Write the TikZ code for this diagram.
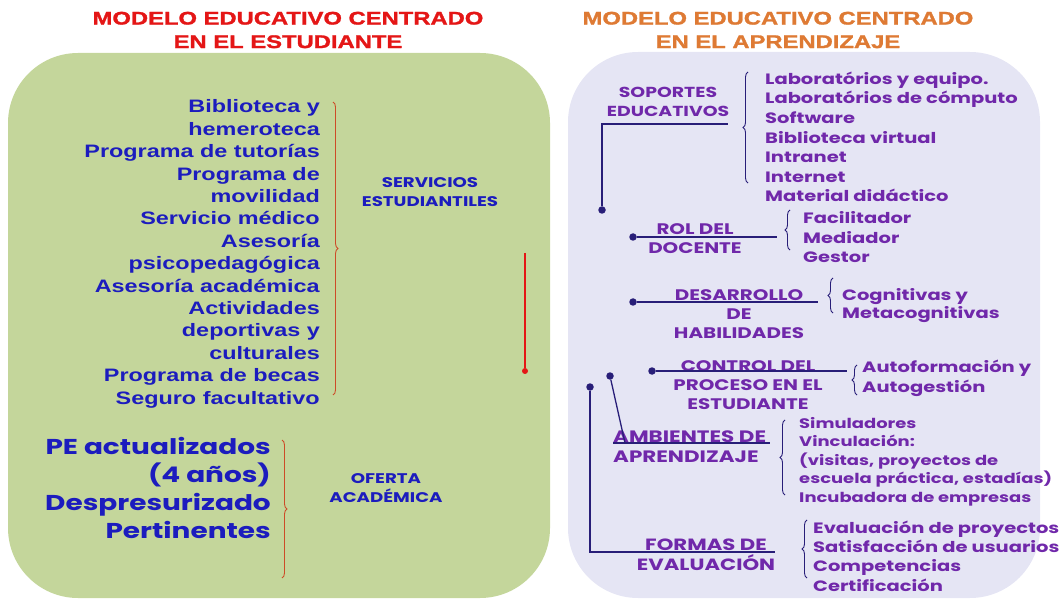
\documentclass[tikz,border=0pt]{standalone}
\usepackage{fontspec}
\setmainfont{Poppins}[FakeStretch=1.3]
\newfontfamily\arialf{Liberation Sans}[FakeStretch=1.3]
\newfontface\titf{Liberation Sans Bold}[FakeStretch=1.3, FakeBold=1.5]
\usetikzlibrary{decorations.pathreplacing}
\definecolor{verde}{RGB}{196,214,155}
\definecolor{lila}{RGB}{229,229,244}
\definecolor{azul}{RGB}{28,28,190}
\definecolor{morado}{RGB}{112,40,170}
\definecolor{marino}{RGB}{40,30,120}
\definecolor{rojo}{RGB}{228,22,22}
\definecolor{naranja}{RGB}{222,122,52}
\definecolor{ladrillo}{RGB}{205,75,40}

\begin{document}
\begin{tikzpicture}[x=1pt,y=-1pt]
	\tikzset{ttl/.style={font=\titf\fontsize{18.3}{23.5}\selectfont, align=center, inner sep=0pt},
		lst/.style={font=\arialf\bfseries\fontsize{18}{22.4}\selectfont, text=azul, align=right, inner sep=0pt},
		big/.style={font=\bfseries\fontsize{21.5}{27.7}\selectfont, text=azul, align=right, inner sep=0pt},
		tag/.style={font=\bfseries\fontsize{14}{19}\selectfont, text=azul, align=center, inner sep=0pt},
		lbl/.style={font=\bfseries\fontsize{15.3}{19}\selectfont, text=morado, align=center, inner sep=0pt},
		itm/.style={font=\bfseries\fontsize{15}{19.6}\selectfont, text=morado, align=left, inner sep=0pt},
		brc/.style={decorate, decoration={brace, amplitude=5pt}, line width=0.9pt},
		dot/.style={circle, fill=marino, inner sep=0pt, minimum size=7.5pt},
		cnx/.style={marino, line width=1.3pt}};

	\useasboundingbox (0,0) rectangle (1059,601);
	\fill[verde, rounded corners=70pt] (8,53) rectangle (550,598);
	\fill[lila, rounded corners=70pt] (568,52) rectangle (1040,598);

	% titulos
	\node[ttl, text=rojo] (t1) at (288,30) {MODELO EDUCATIVO CENTRADO\\EN EL ESTUDIANTE};
	\node[ttl, text=naranja] (t2) at (778,30) {MODELO EDUCATIVO CENTRADO\\EN EL APRENDIZAJE};

	% estudiante
	\node[lst, anchor=base east] (serv) at (320,404) {Biblioteca y\\hemeroteca\\Programa de tutorías\\Programa de\\movilidad\\Servicio médico\\Asesoría\\psicopedagógica\\Asesoría académica\\Actividades\\deportivas y\\culturales\\Programa de becas\\Seguro facultativo};
	\coordinate (b1) at (333,102);
	\coordinate (b2) at (333,395);
	\draw[brc, ladrillo] (b1) -- (b2);
	\node[tag] (se) at (430,192) {SERVICIOS\\ESTUDIANTILES};

	\coordinate (r1) at (525,253);
	\node[dot, fill=rojo, minimum size=6pt] (r2) at (525,371) {};
	\draw[rojo, line width=1.3pt] (r1) -- (r2);

	\node[big, anchor=base east] (pe) at (271,538) {PE actualizados\\(4 años)\\Despresurizado\\Pertinentes};
	\coordinate (b3) at (282,440);
	\coordinate (b4) at (282,578);
	\draw[brc, ladrillo] (b3) -- (b4);
	\node[tag] (oa) at (386,488) {OFERTA\\ACADÉMICA};

	% aprendizaje
	\node[lbl, font=\bfseries\fontsize{14.5}{19}\selectfont] (sop) at (668,102) {SOPORTES\\EDUCATIVOS};
	\node[dot] (s0) at (602,210) {};
	\coordinate (s1) at (602,124);
	\coordinate (s2) at (728,124);
	\draw[cnx] (s0) -- (s1) -- (s2);
	\coordinate (b5) at (748,183);
	\coordinate (b6) at (748,72);
	\draw[brc, marino] (b5) -- (b6);
	\node[itm, anchor=base west] (sopi) at (765,202) {Laboratórios y equipo.\\Laboratórios de cómputo\\Software\\Biblioteca virtual\\Intranet\\Internet\\Material didáctico};

	\node[lbl] (rol) at (695,239) {ROL DEL\\DOCENTE};
	\node[dot] (d0) at (633,237) {};
	\coordinate (d1) at (777,237);
	\draw[cnx] (d0) -- (d1);
	\coordinate (b7) at (790,250);
	\coordinate (b8) at (790,210);
	\draw[brc, marino] (b7) -- (b8);
	\node[itm, anchor=base west] (roli) at (803,263) {Facilitador\\Mediador\\Gestor};

	\node[lbl] (des) at (739,314) {DESARROLLO\\DE\\HABILIDADES};
	\node[dot] (h0) at (633,302) {};
	\coordinate (h1) at (818,302);
	\draw[cnx] (h0) -- (h1);
	\coordinate (b9) at (833,313);
	\coordinate (b10) at (833,278);
	\draw[brc, marino] (b9) -- (b10);
	\node[itm, anchor=base west, font=\bfseries\fontsize{15}{17.5}\selectfont] (desi) at (842,318) {Cognitivas y\\Metacognitivas};

	\node[lbl] (con) at (748,385) {CONTROL DEL\\PROCESO EN EL\\ESTUDIANTE};
	\node[dot] (c0) at (652,371) {};
	\coordinate (c1) at (847,371);
	\draw[cnx] (c0) -- (c1);
	\coordinate (b11) at (857,395);
	\coordinate (b12) at (857,365);
	\draw[brc, marino] (b11) -- (b12);
	\node[itm, anchor=base west] (coni) at (862,392) {Autoformación y\\Autogestión};

	\node[lbl, font=\bfseries\fontsize{16.5}{19.5}\selectfont, align=left, anchor=base west] (amb) at (613,462) {AMBIENTES DE\\APRENDIZAJE};
	\node[dot] (a0) at (610,376) {};
	\coordinate (a1) at (625,443);
	\coordinate (a2) at (613,443);
	\coordinate (a3) at (770,443);
	\draw[cnx] (a0) -- (a1);
	\draw[cnx] (a2) -- (a3);
	\coordinate (b13) at (785,495);
	\coordinate (b14) at (785,420);
	\draw[brc, marino] (b13) -- (b14);
	\node[itm, anchor=base west, font=\bfseries\fontsize{13.8}{18.5}\selectfont] (ambi) at (799,502) {Simuladores\\Vinculación:\\(visitas, proyectos de\\escuela práctica, estadías)\\Incubadora de empresas};

	\node[lbl, font=\bfseries\fontsize{16.3}{20}\selectfont] (for) at (706,555) {FORMAS DE\\EVALUACIÓN};
	\node[dot] (f0) at (590,387) {};
	\coordinate (f1) at (590,552);
	\coordinate (f2) at (775,552);
	\draw[cnx] (f0) -- (f1) -- (f2);
	\coordinate (b15) at (807,578);
	\coordinate (b16) at (807,520);
	\draw[brc, marino] (b15) -- (b16);
	\node[itm, anchor=base west, font=\bfseries\fontsize{15}{19.3}\selectfont] (fori) at (813,591) {Evaluación de proyectos\\Satisfacción de usuarios\\Competencias\\Certificación};
\end{tikzpicture}
\end{document}
